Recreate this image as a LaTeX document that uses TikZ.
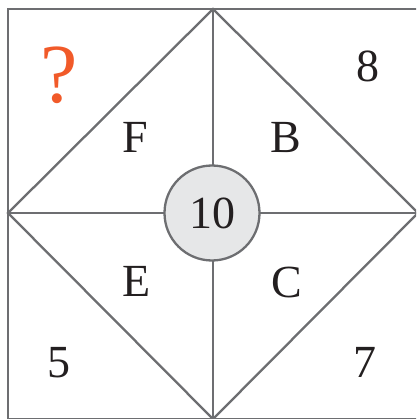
\documentclass[tikz,border=0pt]{standalone}
\usepackage{fontspec}
\setmainfont{Liberation Serif}
\definecolor{ln}{HTML}{6D6E71}
\definecolor{cf}{HTML}{E6E7E8}
\definecolor{qo}{HTML}{F15A29}
\definecolor{tx}{HTML}{231F20}
\begin{document}
\begin{tikzpicture}[x=1pt,y=-1pt,
  line/.style={draw=ln,line width=2.3pt},
  lab/.style={font=\fontsize{46}{46}\selectfont,inner sep=0pt,text=tx}]
\useasboundingbox (0,0) rectangle (416,419);
\clip (0,0) rectangle (416,419);
\coordinate (TL) at (8,9);
\coordinate (BR) at (418,419);
\coordinate (T) at (213,9);
\coordinate (B) at (213,419);
\coordinate (L) at (8,213);
\coordinate (R) at (418,213);
\draw[line] (TL) rectangle (BR);
\draw[line,line join=miter] (T) -- (R) -- (B) -- (L) -- cycle;
\draw[line] (L) -- (R);
\draw[line] (T) -- (B);
\node[line,circle,fill=cf,minimum size=95pt,inner sep=0pt] (c) at (212,213) {};
\node[lab] (n10) at (c.center) {10};
\node[inner sep=0pt,text=qo,font=\fontsize{84}{84}\selectfont] (q) at (59,75.5) {?};
\node[lab] (n8) at (367.5,66) {8};
\node[lab] (nF) at (135,137.5) {F};
\node[lab] (nB) at (286,137.5) {B};
\node[lab] (nE) at (136.5,281) {E};
\node[lab] (nC) at (287,282) {C};
\node[lab] (n5) at (59,362.5) {5};
\node[lab] (n7) at (365,362.5) {7};
\end{tikzpicture}
\end{document}
